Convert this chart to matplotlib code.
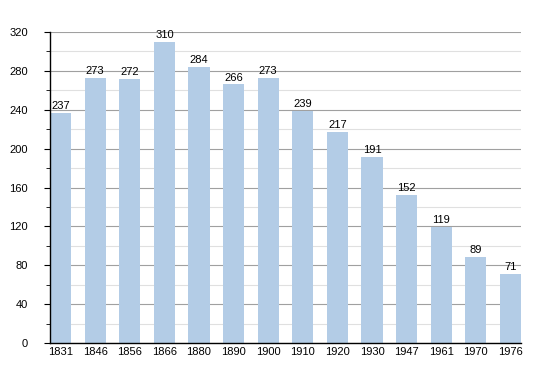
import matplotlib.pyplot as plt
import numpy as np

plt.rcParams['font.family'] = ['Liberation Sans', 'DejaVu Sans']

years = ['1831', '1846', '1856', '1866', '1880', '1890', '1900',
         '1910', '1920', '1930', '1947', '1961', '1970', '1976']
population = [237, 273, 272, 310, 284, 266, 273, 239, 217, 191, 152, 119, 89, 71]
yticks = [0, 40, 80, 120, 160, 200, 240, 280, 320]

fig = plt.figure(figsize=(5.5, 3.73), dpi=100)
ax = fig.add_axes([50/550, 30/373, 471/550, 311/373])

x = np.arange(len(years))
ax.bar(x, population, width=0.61, color='#b3cce6', zorder=2)
for xi, v in zip(x, population):
    ax.text(xi, v + 2, str(v), ha='center', va='bottom', fontsize=8, zorder=3)

ax.set_xlim(-0.305, len(years) - 1 + 0.305)
ax.set_ylim(0, 320)
ax.set_xticks(x)
ax.set_xticklabels(years, fontsize=8)
ax.set_yticks(yticks)
ax.set_yticklabels([str(t) for t in yticks], fontsize=8)
ax.set_yticks(np.arange(20, 320, 40), minor=True)
ax.tick_params(axis='x', length=0, pad=3)
ax.tick_params(axis='y', which='major', length=4, pad=12)
ax.tick_params(axis='y', which='minor', length=3)
ax.grid(axis='y', which='major', color='#a0a0a0', linewidth=0.8, zorder=0)
ax.grid(axis='y', which='minor', color='#e0e0e0', linewidth=0.8, zorder=0)
for s in ['top', 'right']:
    ax.spines[s].set_visible(False)
ax.spines['left'].set_linewidth(1.0)
ax.spines['bottom'].set_linewidth(1.0)

plt.savefig('out.png')
